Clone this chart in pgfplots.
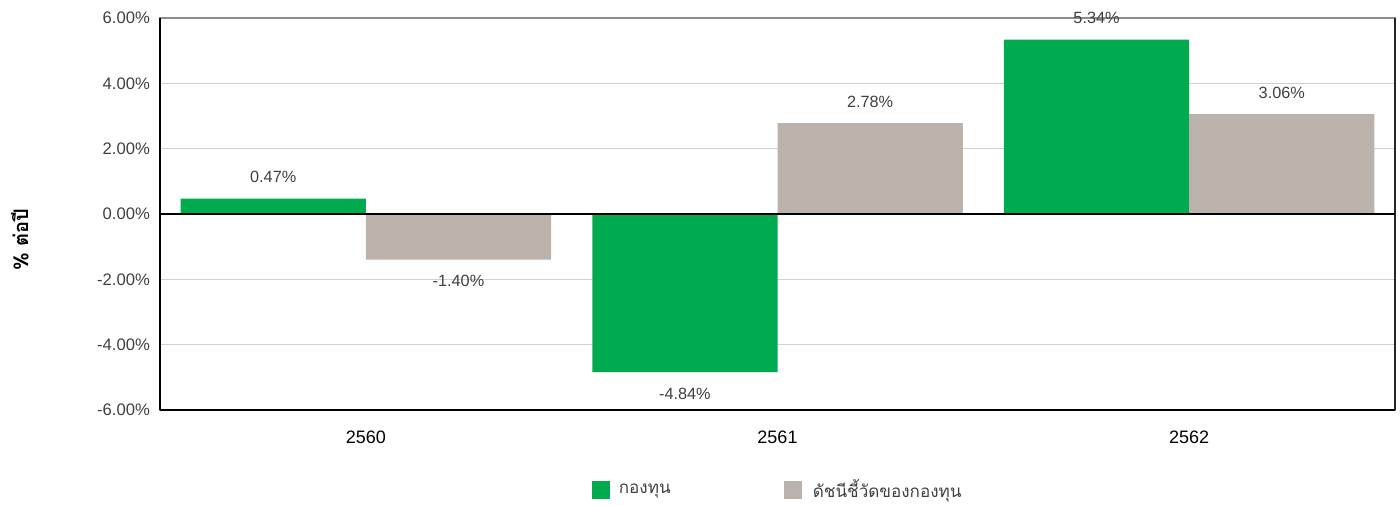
\documentclass[border=0pt]{standalone}
\usepackage{pgfplots}
\pgfplotsset{compat=1.18}
\usepackage{fontspec}
\setmainfont{Liberation Sans}
\newfontfamily\thaifont[Script=Thai]{Loma}
\definecolor{fundgreen}{RGB}{0,171,80}
\definecolor{benchgray}{RGB}{188,178,172}
\definecolor{lblgray}{RGB}{64,64,64}
\definecolor{gridgray}{RGB}{208,208,208}
\begin{document}
\begin{tikzpicture}
\useasboundingbox (0,0) rectangle (1050pt,378.75pt);
\begin{axis}[
  at={(120pt,71.25pt)}, anchor=south west,
  scale only axis, width=926.25pt, height=294pt,
  ybar=0pt, bar width=0.45,
  xmin=-0.5, xmax=2.5, ymin=-6, ymax=6,
  xtick={0,1,2}, xticklabels={2560,2561,2562},
  ytick={-6,-4,-2,0,2,4,6},
  major tick length=0pt,
  ymajorgrids, grid style={gridgray, line width=0.9pt},
  axis line style={black!45, line width=1pt},
  /pgf/number format/assume math mode=true,
  yticklabel={\pgfmathprintnumber[fixed,fixed zerofill,precision=2]{\tick}\%},
  yticklabel style={font=\fontsize{12.5}{14}\selectfont, text=lblgray, xshift=-4pt},
  xticklabel style={font=\fontsize{13.5}{16}\selectfont, text=black, yshift=-12pt},
  nodes near coords={\pgfmathprintnumber[fixed,fixed zerofill,precision=2]{\pgfplotspointmeta}\%},
  nodes near coords align={vertical},
  every node near coord/.append style={font=\fontsize{12.2}{14}\selectfont, text=lblgray, inner ysep=11.5pt},
  ylabel={\thaifont\bfseries \% ต่อปี},
  every axis y label/.style={at={(axis description cs:-0.1134,0.434)}, rotate=90, anchor=center, font=\fontsize{15}{18}\selectfont},
  clip=false,
  legend columns=2,
  legend style={at={(axis description cs:0.3465,-0.203)}, anchor=west, draw=none, fill=none,
    font=\thaifont\fontsize{12.8}{15}\selectfont, text=lblgray,
    /tikz/every even column/.append style={column sep=0pt}},
  legend image code/.code={\fill[#1, draw=none] (0pt,-6.75pt) rectangle (13.5pt,6.75pt);},
]
\addplot[fill=fundgreen, draw=none] coordinates {(0,0.47) (1,-4.84) (2,5.34)};
\addplot[fill=benchgray, draw=none] coordinates {(0,-1.40) (1,2.78) (2,3.06)};
\legend{\makebox[126pt][l]{\hspace{4.5pt}\raisebox{0.5pt}{กองทุน}}, \hspace{6.5pt}\raisebox{0.5pt}{ดัชนีชี้วัดของกองทุน}}
\draw[black, line width=1.5pt] (rel axis cs:0,0) -- (rel axis cs:1,0);
\draw[black, line width=1.5pt] (rel axis cs:0,0) -- (rel axis cs:0,1);
\draw[black!85, line width=1.2pt] (rel axis cs:1,0) -- (rel axis cs:1,1);
\draw[black, line width=1.5pt] (axis cs:-0.5,0) -- (axis cs:2.5,0);
\end{axis}
\end{tikzpicture}
\end{document}
